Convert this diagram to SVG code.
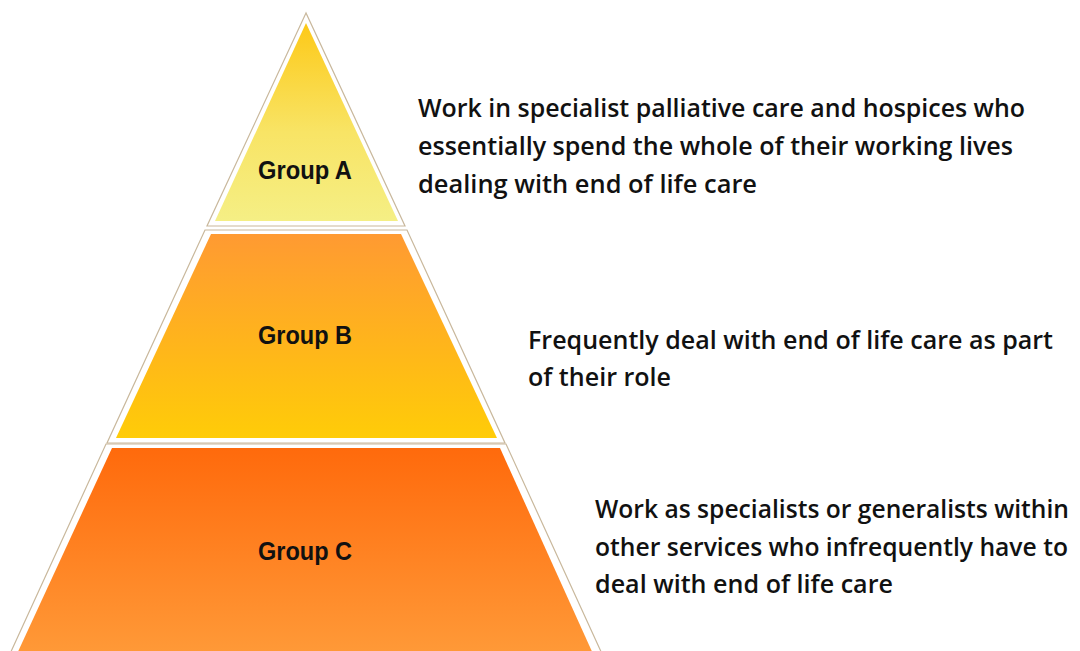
<svg xmlns="http://www.w3.org/2000/svg" width="1080" height="651" viewBox="0 0 1080 651">
<defs>
<linearGradient id="gA" x1="0" y1="0" x2="0" y2="1">
<stop offset="0" stop-color="#FDC918"/>
<stop offset="0.55" stop-color="#F8E465"/>
<stop offset="1" stop-color="#F5EF85"/>
</linearGradient>
<linearGradient id="gB" x1="0" y1="0" x2="0" y2="1">
<stop offset="0" stop-color="#FF9A32"/>
<stop offset="1" stop-color="#FFCC08"/>
</linearGradient>
<linearGradient id="gC" x1="0" y1="0" x2="0" y2="1">
<stop offset="0" stop-color="#FF6A0C"/>
<stop offset="1" stop-color="#FF9A38"/>
</linearGradient>
<style>
.frame{fill:#ffffff;stroke:#C9B89C;stroke-width:1.2}
.lbl{font-family:"Liberation Sans",Arial,sans-serif;font-weight:bold;font-size:25px;fill:#111}
.desc{font-family:"Open Sans","Noto Sans",sans-serif;font-weight:600;font-size:26px;fill:#111}
.descs{font-family:"Open Sans","Noto Sans",sans-serif;font-weight:600;font-size:25px;fill:#111}
</style>
</defs>
<rect width="1080" height="651" fill="#ffffff"/>
<g id="groupA">
<polygon class="frame" points="306,13 207,226 405,226"/>
<polygon fill="url(#gA)" points="306,23 215,221 398,221"/>
<text class="lbl" x="258" y="179" textLength="94" lengthAdjust="spacingAndGlyphs">Group A</text>
</g>
<g id="groupB">
<polygon class="frame" points="205,230 407,230 505,443 107,443"/>
<polygon fill="url(#gB)" points="211,234 401,234 497,438 116,438"/>
<text class="lbl" x="258" y="344" textLength="94" lengthAdjust="spacingAndGlyphs">Group B</text>
</g>
<g id="groupC">
<polygon class="frame" points="106,444 506,444 603,656 9,656"/>
<polygon fill="url(#gC)" points="112,448 500,448 594,656 16,656"/>
<text class="lbl" x="258" y="560" textLength="94" lengthAdjust="spacingAndGlyphs">Group C</text>
</g>
<g id="textA">
<text class="desc" x="418" y="117" textLength="607" lengthAdjust="spacingAndGlyphs">Work in specialist palliative care and hospices who</text>
<text class="desc" x="418" y="155" textLength="595" lengthAdjust="spacingAndGlyphs">essentially spend the whole of their working lives</text>
<text class="desc" x="418" y="193" textLength="339" lengthAdjust="spacingAndGlyphs">dealing with end of life care</text>
</g>
<g id="textB">
<text class="desc" x="528" y="349" textLength="525" lengthAdjust="spacingAndGlyphs">Frequently deal with end of life care as part</text>
<text class="desc" x="528" y="386" textLength="143" lengthAdjust="spacingAndGlyphs">of their role</text>
</g>
<g id="textC">
<text class="descs" x="595" y="518" textLength="474" lengthAdjust="spacingAndGlyphs">Work as specialists or generalists within</text>
<text class="descs" x="595" y="556" textLength="473" lengthAdjust="spacingAndGlyphs">other services who infrequently have to</text>
<text class="descs" x="595" y="593" textLength="298" lengthAdjust="spacingAndGlyphs">deal with end of life care</text>
</g>
<g id="connectors"/>
</svg>
